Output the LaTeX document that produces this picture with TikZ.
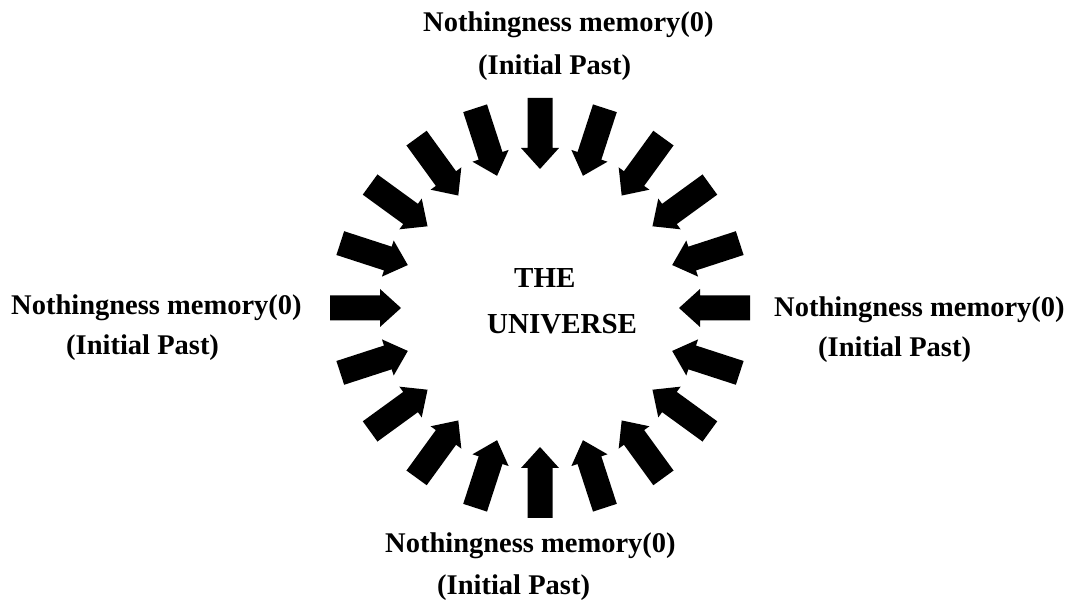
\documentclass[tikz,border=0pt]{standalone}
\usepackage{fontspec}
\setmainfont{Liberation Serif}
\begin{document}
\begin{tikzpicture}[x=1pt,y=1pt,
  bigarrow/.style={fill=black,draw=none},
  lbl/.style={inner sep=0pt,anchor=base west,font=\fontsize{28.5}{34}\selectfont\bfseries},
  title/.style={inner sep=0pt,anchor=base west,font=\fontsize{29}{34}\selectfont\bfseries}]
\useasboundingbox[fill=white] (0,0) rectangle (1065,604);
\coordinate (c) at (540,296);
\foreach \a in {0,18,...,342}{
  \fill[bigarrow,shift={(c)},rotate=\a]
    (210,12.5) -- (160,12.5) -- (160,19) -- (139,0) -- (160,-19) -- (160,-12.5) -- (210,-12.5) -- cycle;
}
% top
\node[lbl] (t1) at (423,572) {Nothingness memory(0)};
\node[lbl] (t2) at (478,529) {(Initial Past)};
% left
\node[lbl] (l1) at (11,289) {Nothingness memory(0)};
\node[lbl] (l2) at (66,249) {(Initial Past)};
% right
\node[lbl] (r1) at (774,287) {Nothingness memory(0)};
\node[lbl] (r2) at (818,247) {(Initial Past)};
% bottom
\node[lbl] (b1) at (385,51) {Nothingness memory(0)};
\node[lbl] (b2) at (437,9) {(Initial Past)};
% centre
\node[title] (the) at (514,316) {THE};
\node[title] (uni) at (487,270) {UNIVERSE};
\end{tikzpicture}
\end{document}
